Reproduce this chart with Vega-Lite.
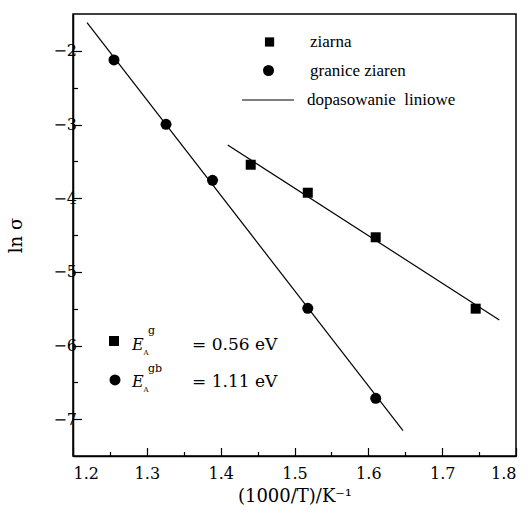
{
  "$schema": "https://vega.github.io/schema/vega-lite/v6.json",
  "width": 443,
  "height": 442,
  "autosize": {"type": "none"},
  "padding": {"left": 73, "top": 14, "right": 14, "bottom": 60},
  "background": "white",
  "config": {
    "view": {"stroke": "black", "strokeWidth": 1.5},
    "axis": {
      "grid": false,
      "tickColor": "black",
      "tickWidth": 1.2,
      "domainColor": "black",
      "domainWidth": 1.5,
      "labelColor": "black",
      "labelFont": "DejaVu Serif",
      "labelFontSize": 16,
      "titleColor": "black",
      "titleFont": "DejaVu Serif",
      "titleFontWeight": "normal",
      "titleFontSize": 18
    },
    "legend": {"labelFont": "Liberation Serif", "labelFontSize": 17, "labelColor": "black"}
  },
  "datasets": {
    "points": [
      {"series": "granice ziaren", "x": 1.2555, "y": -2.124},
      {"series": "granice ziaren", "x": 1.326, "y": -2.997},
      {"series": "granice ziaren", "x": 1.389, "y": -3.757},
      {"series": "granice ziaren", "x": 1.518, "y": -5.495},
      {"series": "granice ziaren", "x": 1.610, "y": -6.717},
      {"series": "ziarna", "x": 1.4407, "y": -3.546},
      {"series": "ziarna", "x": 1.518, "y": -3.926},
      {"series": "ziarna", "x": 1.610, "y": -4.531},
      {"series": "ziarna", "x": 1.7454, "y": -5.500}
    ],
    "fits": [
      {"fit": "granice ziaren", "x": 1.219, "y": -1.618},
      {"fit": "granice ziaren", "x": 1.647, "y": -7.156},
      {"fit": "ziarna", "x": 1.4095, "y": -3.278},
      {"fit": "ziarna", "x": 1.7774, "y": -5.654}
    ]
  },
  "layer": [
    {
      "data": {"name": "fits"},
      "mark": {"type": "line", "strokeWidth": 1.2},
      "encoding": {
        "x": {"field": "x", "type": "quantitative", "scale": {"domain": [1.2, 1.8], "nice": false, "zero": false},
              "axis": {"orient": "bottom", "values": [1.25, 1.35, 1.45, 1.55, 1.65, 1.75], "labels": false, "domain": false, "tickSize": -4.5, "title": null}},
        "y": {"field": "y", "type": "quantitative", "scale": {"domain": [-7.5, -1.5], "nice": false, "zero": false},
              "axis": {"orient": "left", "values": [-2.5, -3.5, -4.5, -5.5, -6.5], "labels": false, "domain": false, "tickSize": -4.5, "title": null}},
        "detail": {"field": "fit", "type": "nominal"},
        "color": {"datum": "dopasowanie \u00a0liniowe", "type": "nominal", "scale": {"domain": ["dopasowanie \u00a0liniowe"], "range": ["black"]},
                  "legend": {"title": null, "orient": "none", "legendX": 168, "legendY": 59, "padding": 0, "labelFont": "Liberation Serif", "labelFontSize": 17, "labelColor": "black", "labelOffset": 12, "labelLimit": 300, "symbolType": "stroke", "symbolSize": 2704, "symbolStrokeWidth": 1.2, "symbolStrokeColor": "black", "symbolOpacity": 1}}
      }
    },
    {
      "data": {"name": "points"},
      "mark": {"type": "point", "filled": true, "color": "black", "opacity": 1},
      "encoding": {
        "x": {"field": "x", "type": "quantitative",
              "axis": {"orient": "bottom", "values": [1.2, 1.3, 1.4, 1.5, 1.6, 1.7, 1.8], "format": ".1f", "tickSize": -8.5, "labelPadding": 18, "labelFont": "DejaVu Serif", "labelFontSize": 16, "title": "(1000/T)/K⁻¹", "titlePadding": 6}},
        "y": {"field": "y", "type": "quantitative",
              "axis": {"orient": "left", "values": [-2, -3, -4, -5, -6, -7], "format": "d", "tickSize": -8.5, "labelPadding": 5, "labelFont": "DejaVu Serif", "labelFontSize": 16, "title": "ln σ", "titlePadding": 27}},
        "shape": {"field": "series", "type": "nominal", "sort": "descending",
                  "scale": {"range": ["square", "circle"]}, "legend": null},
        "size": {"field": "series", "type": "nominal", "sort": "descending",
                 "scale": {"range": [100, 121]}, "legend": null}
      }
    },
    {
      "data": {"values": [{}]},
      "mark": {"type": "point", "filled": true, "shape": "square", "size": 85, "color": "black", "opacity": 1},
      "encoding": {"x": {"datum": 1.4662, "type": "quantitative", "axis": null}, "y": {"datum": -1.88, "type": "quantitative", "axis": null}}
    },
    {
      "data": {"values": [{}]},
      "mark": {"type": "point", "filled": true, "shape": "circle", "size": 121, "color": "black", "opacity": 1},
      "encoding": {"x": {"datum": 1.4648, "type": "quantitative", "axis": null}, "y": {"datum": -2.267, "type": "quantitative", "axis": null}}
    },
    {
      "data": {"values": [{}]},
      "mark": {"type": "text", "text": "ziarna", "font": "Liberation Serif", "fontSize": 17, "align": "left", "baseline": "middle", "color": "black"},
      "encoding": {"x": {"datum": 1.521, "type": "quantitative", "axis": null}, "y": {"datum": -1.88, "type": "quantitative", "axis": null}}
    },
    {
      "data": {"values": [{}]},
      "mark": {"type": "text", "text": "granice ziaren", "font": "Liberation Serif", "fontSize": 17, "align": "left", "baseline": "middle", "color": "black"},
      "encoding": {"x": {"datum": 1.521, "type": "quantitative", "axis": null}, "y": {"datum": -2.267, "type": "quantitative", "axis": null}}
    },
    {
      "data": {"values": [{}]},
      "mark": {"type": "point", "filled": true, "shape": "square", "size": 100, "color": "black", "opacity": 1},
      "encoding": {"x": {"datum": 1.2555, "type": "quantitative", "axis": null}, "y": {"datum": -5.939, "type": "quantitative", "axis": null}}
    },
    {
      "data": {"values": [{}]},
      "mark": {"type": "point", "filled": true, "shape": "circle", "size": 121, "color": "black", "opacity": 1},
      "encoding": {"x": {"datum": 1.2569, "type": "quantitative", "axis": null}, "y": {"datum": -6.468, "type": "quantitative", "axis": null}}
    },
    {
      "data": {"values": [{}]},
      "mark": {"type": "text", "text": "E", "font": "DejaVu Serif", "fontStyle": "italic", "fontSize": 16, "align": "left", "baseline": "alphabetic", "color": "black"},
      "encoding": {"x": {"datum": 1.2799, "type": "quantitative", "axis": null}, "y": {"datum": -6.061, "type": "quantitative", "axis": null}}
    },
    {
      "data": {"values": [{}]},
      "mark": {"type": "text", "text": "E", "font": "DejaVu Serif", "fontStyle": "italic", "fontSize": 16, "align": "left", "baseline": "alphabetic", "color": "black"},
      "encoding": {"x": {"datum": 1.2799, "type": "quantitative", "axis": null}, "y": {"datum": -6.563, "type": "quantitative", "axis": null}}
    },
    {
      "data": {"values": [{}]},
      "mark": {"type": "text", "text": "g", "font": "DejaVu Serif", "fontSize": 11, "align": "left", "baseline": "alphabetic", "color": "black"},
      "encoding": {"x": {"datum": 1.3016, "type": "quantitative", "axis": null}, "y": {"datum": -5.844, "type": "quantitative", "axis": null}}
    },
    {
      "data": {"values": [{}]},
      "mark": {"type": "text", "text": "gb", "font": "DejaVu Serif", "fontSize": 11, "align": "left", "baseline": "alphabetic", "color": "black"},
      "encoding": {"x": {"datum": 1.3016, "type": "quantitative", "axis": null}, "y": {"datum": -6.36, "type": "quantitative", "axis": null}}
    },
    {
      "data": {"values": [{}]},
      "mark": {"type": "text", "text": "A", "font": "DejaVu Serif", "fontSize": 7, "align": "left", "baseline": "alphabetic", "color": "black"},
      "encoding": {"x": {"datum": 1.2955, "type": "quantitative", "axis": null}, "y": {"datum": -6.129, "type": "quantitative", "axis": null}}
    },
    {
      "data": {"values": [{}]},
      "mark": {"type": "text", "text": "A", "font": "DejaVu Serif", "fontSize": 7, "align": "left", "baseline": "alphabetic", "color": "black"},
      "encoding": {"x": {"datum": 1.2955, "type": "quantitative", "axis": null}, "y": {"datum": -6.631, "type": "quantitative", "axis": null}}
    },
    {
      "data": {"values": [{}]},
      "mark": {"type": "text", "text": "= 0.56 eV", "font": "DejaVu Serif", "fontSize": 17, "align": "left", "baseline": "alphabetic", "color": "black"},
      "encoding": {"x": {"datum": 1.3612, "type": "quantitative", "axis": null}, "y": {"datum": -6.061, "type": "quantitative", "axis": null}}
    },
    {
      "data": {"values": [{}]},
      "mark": {"type": "text", "text": "= 1.11 eV", "font": "DejaVu Serif", "fontSize": 17, "align": "left", "baseline": "alphabetic", "color": "black"},
      "encoding": {"x": {"datum": 1.3612, "type": "quantitative", "axis": null}, "y": {"datum": -6.563, "type": "quantitative", "axis": null}}
    }
  ],
  "resolve": {"axis": {"x": "independent", "y": "independent"}}
}
